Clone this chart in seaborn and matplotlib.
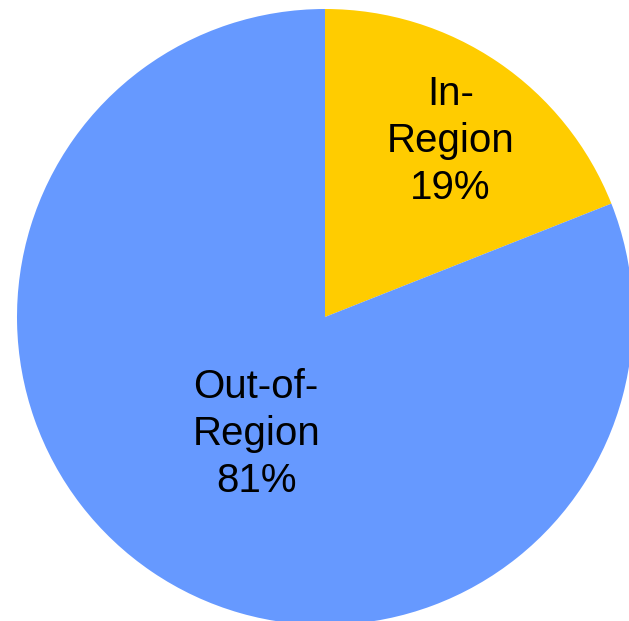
import numpy as np
import matplotlib
matplotlib.use("Agg")
import matplotlib.pyplot as plt
import seaborn as sns

categories = ["In-\nRegion", "Out-of-\nRegion"]
shares = [19, 81]
colors = ["#FFCC00", "#6699FF"]
label_dist = [0.70, 0.44]
label_turn = [-1.3, 3.7]

sns.set_style("white")
plt.rcParams["font.family"] = ["Liberation Sans", "DejaVu Sans"]

fig = plt.figure(figsize=(6.29, 6.21), dpi=100)
ax = fig.add_axes([0, 0, 1, 1])
wedges, _ = ax.pie(shares, colors=colors, startangle=90, counterclock=False,
                   radius=1.0, wedgeprops=dict(linewidth=0))
for w, cat, val, d, t in zip(wedges, categories, shares, label_dist, label_turn):
    ang = np.deg2rad((w.theta1 + w.theta2) / 2 + t)
    ax.text(d * np.cos(ang), d * np.sin(ang), f"{cat}\n{val}%",
            ha="center", va="center", fontsize=29, color="black",
            linespacing=1.3)
ax.set_xlim(-325 / 308, (629 - 325) / 308)
ax.set_ylim(-(621 - 317) / 308, 317 / 308)
ax.set_aspect("auto")
ax.axis("off")
fig.savefig("out.png", dpi=100, facecolor="white")
